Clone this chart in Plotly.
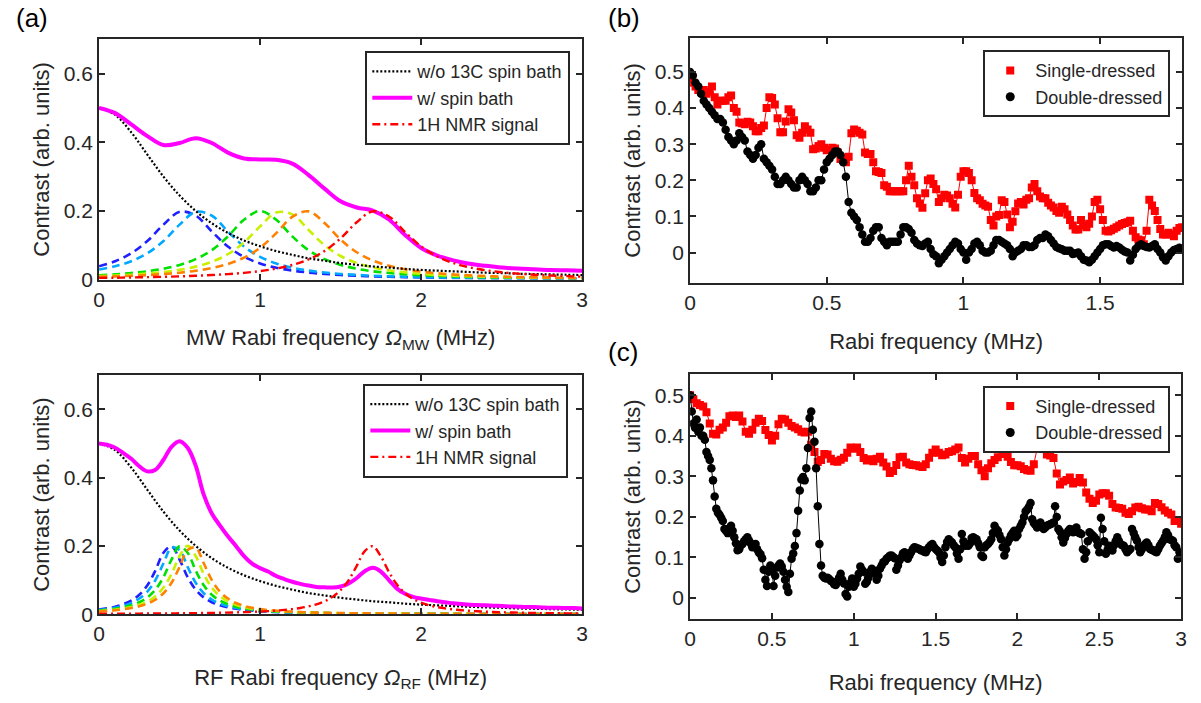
import plotly.graph_objects as go

# ---------------- Panel (a) top: MW dressing (x step 0.1 MHz) ----------------
mw_x = [round(0.1 * i, 2) for i in range(31)]
bare_contrast = [0.500, 0.480, 0.429, 0.364, 0.300, 0.245, 0.200, 0.164, 0.136, 0.114,
                 0.097, 0.083, 0.072, 0.062, 0.055, 0.048, 0.043, 0.038, 0.035, 0.031,
                 0.028, 0.026, 0.024, 0.022, 0.020, 0.019, 0.017, 0.016, 0.015, 0.014, 0.013]
mw_bath = [0.500, 0.485, 0.452, 0.418, 0.392, 0.398, 0.412, 0.398, 0.370, 0.353,
           0.350, 0.349, 0.338, 0.305, 0.265, 0.228, 0.210, 0.201, 0.175, 0.130,
           0.092, 0.070, 0.056, 0.046, 0.040, 0.035, 0.032, 0.030, 0.028, 0.027, 0.026]
mw_blue = [0.0388, 0.0535, 0.0766, 0.1122, 0.1600, 0.1974, 0.1865, 0.1401, 0.0962, 0.0661,
           0.0469, 0.0344, 0.0262, 0.0205, 0.0164, 0.0134, 0.0111, 0.0094, 0.0080, 0.0070,
           0.0061, 0.0053, 0.0047, 0.0042, 0.0038, 0.0034, 0.0031, 0.0028, 0.0026, 0.0024, 0.0022]
mw_cyan = [0.0291, 0.0388, 0.0535, 0.0766, 0.1122, 0.1600, 0.1974, 0.1865, 0.1401, 0.0962,
           0.0661, 0.0469, 0.0344, 0.0262, 0.0205, 0.0164, 0.0134, 0.0111, 0.0094, 0.0080,
           0.0070, 0.0061, 0.0053, 0.0047, 0.0042, 0.0038, 0.0034, 0.0031, 0.0028, 0.0026, 0.0024]
mw_green = [0.0127, 0.0154, 0.0191, 0.0242, 0.0316, 0.0426, 0.0594, 0.0858, 0.1257, 0.1742,
            0.2000, 0.1742, 0.1257, 0.0858, 0.0594, 0.0426, 0.0316, 0.0242, 0.0191, 0.0154,
            0.0127, 0.0106, 0.0090, 0.0077, 0.0067, 0.0058, 0.0051, 0.0046, 0.0041, 0.0037, 0.0033]
mw_yellow = [0.0099, 0.0118, 0.0142, 0.0175, 0.0220, 0.0283, 0.0377, 0.0518, 0.0738, 0.1080,
             0.1550, 0.1954, 0.1899, 0.1451, 0.1000, 0.0686, 0.0484, 0.0355, 0.0269, 0.0210,
             0.0167, 0.0137, 0.0114, 0.0096, 0.0082, 0.0071, 0.0062, 0.0054, 0.0048, 0.0043, 0.0038]
mw_orange = [0.0079, 0.0093, 0.0110, 0.0131, 0.0161, 0.0200, 0.0255, 0.0335, 0.0454, 0.0638,
             0.0926, 0.1352, 0.1827, 0.1988, 0.1649, 0.1166, 0.0795, 0.0554, 0.0400, 0.0299,
             0.0231, 0.0183, 0.0148, 0.0122, 0.0102, 0.0087, 0.0075, 0.0065, 0.0057, 0.0050, 0.0045]
mw_nmr = [0.0048, 0.0054, 0.0061, 0.0070, 0.0080, 0.0093, 0.0110, 0.0131, 0.0159, 0.0196,
          0.0247, 0.0319, 0.0425, 0.0585, 0.0832, 0.1202, 0.1670, 0.1989, 0.1839, 0.1385,
          0.0964, 0.0671, 0.0481, 0.0356, 0.0272, 0.0214, 0.0172, 0.0141, 0.0118, 0.0100, 0.0085]

# ---------------- Panel (a) bottom: RF dressing (x step 0.05 MHz) ----------------
rf_x = [round(0.05 * i, 2) for i in range(61)]
rf_bath = [0.500, 0.496, 0.487, 0.472, 0.455, 0.433, 0.418, 0.423, 0.452, 0.490,
           0.506, 0.487, 0.435, 0.350, 0.295, 0.260, 0.228, 0.200, 0.170, 0.148,
           0.135, 0.125, 0.112, 0.103, 0.095, 0.089, 0.084, 0.080, 0.079, 0.078,
           0.081, 0.090, 0.106, 0.126, 0.136, 0.125, 0.100, 0.075, 0.060, 0.051,
           0.046, 0.042, 0.038, 0.035, 0.032, 0.030, 0.028, 0.027, 0.026, 0.025,
           0.024, 0.023, 0.022, 0.021, 0.021, 0.020, 0.019, 0.019, 0.018, 0.018, 0.017]
rf_blue = [0.0139, 0.0173, 0.0222, 0.0292, 0.0400, 0.0570, 0.0847, 0.1280, 0.1800, 0.1986,
           0.1600, 0.1087, 0.0720, 0.0492, 0.0351, 0.0261, 0.0200, 0.0158, 0.0127, 0.0105,
           0.0088, 0.0075, 0.0064, 0.0056, 0.0049, 0.0043, 0.0038, 0.0034, 0.0031, 0.0028,
           0.0025, 0.0023, 0.0021, 0.0019, 0.0018, 0.0017, 0.0015, 0.0014, 0.0013, 0.0013,
           0.0012, 0.0011, 0.0010, 0.0010, 0.0009, 0.0009, 0.0008, 0.0008, 0.0007, 0.0007,
           0.0007, 0.0006, 0.0006, 0.0006, 0.0006, 0.0005, 0.0005, 0.0005, 0.0005, 0.0005, 0.0004]
rf_cyan = [0.0122, 0.0151, 0.0190, 0.0247, 0.0330, 0.0459, 0.0665, 0.1000, 0.1492, 0.1946,
           0.1882, 0.1385, 0.0920, 0.0615, 0.0428, 0.0310, 0.0234, 0.0181, 0.0145, 0.0118,
           0.0098, 0.0082, 0.0070, 0.0060, 0.0053, 0.0046, 0.0041, 0.0036, 0.0033, 0.0030,
           0.0027, 0.0024, 0.0022, 0.0020, 0.0019, 0.0017, 0.0016, 0.0015, 0.0014, 0.0013,
           0.0012, 0.0011, 0.0011, 0.0010, 0.0010, 0.0009, 0.0009, 0.0008, 0.0008, 0.0007,
           0.0007, 0.0007, 0.0006, 0.0006, 0.0006, 0.0006, 0.0005, 0.0005, 0.0005, 0.0005, 0.0005]
rf_green = [0.0105, 0.0127, 0.0158, 0.0200, 0.0261, 0.0351, 0.0492, 0.0720, 0.1087, 0.1600,
            0.1986, 0.1800, 0.1280, 0.0847, 0.0570, 0.0400, 0.0292, 0.0222, 0.0173, 0.0139,
            0.0113, 0.0094, 0.0079, 0.0068, 0.0059, 0.0051, 0.0045, 0.0040, 0.0036, 0.0032,
            0.0029, 0.0026, 0.0024, 0.0022, 0.0020, 0.0018, 0.0017, 0.0016, 0.0015, 0.0014,
            0.0013, 0.0012, 0.0011, 0.0011, 0.0010, 0.0010, 0.0009, 0.0009, 0.0008, 0.0008,
            0.0007, 0.0007, 0.0007, 0.0006, 0.0006, 0.0006, 0.0006, 0.0005, 0.0005, 0.0005, 0.0005]
rf_yellow = [0.0091, 0.0109, 0.0133, 0.0165, 0.0210, 0.0276, 0.0375, 0.0529, 0.0780, 0.1180,
             0.1704, 0.2000, 0.1704, 0.1180, 0.0780, 0.0529, 0.0375, 0.0276, 0.0210, 0.0165,
             0.0133, 0.0109, 0.0091, 0.0077, 0.0066, 0.0057, 0.0050, 0.0044, 0.0039, 0.0035,
             0.0031, 0.0028, 0.0026, 0.0024, 0.0022, 0.0020, 0.0018, 0.0017, 0.0016, 0.0015,
             0.0014, 0.0013, 0.0012, 0.0011, 0.0010, 0.0010, 0.0009, 0.0009, 0.0008, 0.0008,
             0.0008, 0.0007, 0.0007, 0.0007, 0.0006, 0.0006, 0.0006, 0.0005, 0.0005, 0.0005, 0.0005]
rf_orange = [0.0082, 0.0098, 0.0118, 0.0145, 0.0181, 0.0234, 0.0310, 0.0428, 0.0615, 0.0920,
             0.1385, 0.1882, 0.1946, 0.1492, 0.1000, 0.0665, 0.0459, 0.0330, 0.0247, 0.0190,
             0.0151, 0.0122, 0.0101, 0.0085, 0.0072, 0.0062, 0.0054, 0.0047, 0.0042, 0.0037,
             0.0033, 0.0030, 0.0027, 0.0025, 0.0023, 0.0021, 0.0019, 0.0018, 0.0016, 0.0015,
             0.0014, 0.0013, 0.0012, 0.0012, 0.0011, 0.0010, 0.0010, 0.0009, 0.0009, 0.0008,
             0.0008, 0.0007, 0.0007, 0.0007, 0.0006, 0.0006, 0.0006, 0.0006, 0.0005, 0.0005, 0.0005]
rf_nmr = [0.0014, 0.0015, 0.0015, 0.0016, 0.0018, 0.0019, 0.0020, 0.0022, 0.0023, 0.0025,
          0.0027, 0.0030, 0.0033, 0.0036, 0.0039, 0.0043, 0.0048, 0.0054, 0.0061, 0.0069,
          0.0079, 0.0091, 0.0107, 0.0126, 0.0151, 0.0184, 0.0228, 0.0290, 0.0378, 0.0508,
          0.0704, 0.1000, 0.1415, 0.1849, 0.1990, 0.1690, 0.1237, 0.0867, 0.0615, 0.0449,
          0.0339, 0.0263, 0.0209, 0.0170, 0.0140, 0.0118, 0.0100, 0.0086, 0.0075, 0.0066,
          0.0058, 0.0052, 0.0046, 0.0042, 0.0038, 0.0034, 0.0031, 0.0029, 0.0026, 0.0024, 0.0023]

# ---------------- Panel (b): experiment, 0-1.8 MHz, step 0.01 ----------------
b_single = [0.48, 0.47, 0.46, 0.45, 0.45, 0.45, 0.44, 0.445, 0.46, 0.43,
            0.41, 0.42, 0.42, 0.42, 0.43, 0.435, 0.40, 0.39, 0.36, 0.358,
            0.355, 0.362, 0.36, 0.35, 0.336, 0.336, 0.345, 0.352, 0.40, 0.43,
            0.428, 0.41, 0.372, 0.333, 0.333, 0.363, 0.397, 0.388, 0.366, 0.325,
            0.318, 0.332, 0.35, 0.341, 0.332, 0.286, 0.288, 0.295, 0.30, 0.29,
            0.283, 0.284, 0.29, 0.288, 0.277, 0.259, 0.261, 0.25, 0.265, 0.33,
            0.341, 0.337, 0.332, 0.327, 0.277, 0.273, 0.273, 0.25, 0.225, 0.223,
            0.22, 0.186, 0.182, 0.17, 0.17, 0.17, 0.17, 0.17, 0.17, 0.20,
            0.24, 0.21, 0.186, 0.15, 0.136, 0.124, 0.164, 0.20, 0.205, 0.19,
            0.175, 0.14, 0.15, 0.16, 0.158, 0.15, 0.135, 0.125, 0.16, 0.21,
            0.225, 0.225, 0.22, 0.20, 0.165, 0.15, 0.145, 0.135, 0.13, 0.127,
            0.09, 0.075, 0.10, 0.104, 0.145, 0.14, 0.105, 0.07, 0.085, 0.114,
            0.136, 0.14, 0.133, 0.146, 0.15, 0.18, 0.19, 0.17, 0.155, 0.15,
            0.15, 0.138, 0.13, 0.125, 0.115, 0.11, 0.127, 0.12, 0.105, 0.09,
            0.075, 0.064, 0.064, 0.09, 0.075, 0.07, 0.08, 0.10, 0.14, 0.146,
            0.12, 0.09, 0.06, 0.058, 0.062, 0.066, 0.07, 0.075, 0.079, 0.082,
            0.084, 0.088, 0.06, 0.042, 0.036, 0.034, 0.023, 0.06, 0.146, 0.13,
            0.115, 0.09, 0.065, 0.05, 0.05, 0.055, 0.05, 0.045, 0.06, 0.068, 0.07]
b_double = [0.50, 0.49, 0.47, 0.46, 0.44, 0.42, 0.41, 0.40, 0.39, 0.38,
            0.37, 0.37, 0.36, 0.34, 0.32, 0.31, 0.30, 0.31, 0.33, 0.32,
            0.31, 0.28, 0.27, 0.26, 0.27, 0.29, 0.30, 0.26, 0.25, 0.24,
            0.23, 0.21, 0.19, 0.19, 0.20, 0.21, 0.20, 0.19, 0.18, 0.18,
            0.20, 0.21, 0.20, 0.19, 0.17, 0.17, 0.18, 0.20, 0.20, 0.23,
            0.25, 0.26, 0.27, 0.28, 0.28, 0.27, 0.25, 0.21, 0.14, 0.11,
            0.10, 0.09, 0.07, 0.05, 0.03, 0.03, 0.04, 0.06, 0.07, 0.07,
            0.04, 0.03, 0.02, 0.03, 0.03, 0.03, 0.03, 0.05, 0.07, 0.07,
            0.065, 0.055, 0.035, 0.025, 0.02, 0.018, 0.025, 0.03, 0.01, -0.005,
            -0.01, -0.03, -0.02, -0.01, 0.00, 0.01, 0.02, 0.03, 0.025, 0.01,
            0.00, -0.02, 0.00, 0.01, 0.025, 0.03, 0.02, 0.005, 0.00, 0.00,
            0.005, 0.02, 0.035, 0.035, 0.03, 0.025, 0.02, 0.01, -0.01, 0.00,
            0.005, 0.01, 0.02, 0.02, 0.015, 0.015, 0.02, 0.035, 0.04, 0.04,
            0.05, 0.045, 0.035, 0.025, 0.015, 0.012, 0.009, 0.005, 0.005, 0.005,
            -0.004, -0.002, 0.00, -0.01, -0.02, -0.022, -0.027, -0.02, -0.01, 0.00,
            0.01, 0.02, 0.023, 0.023, 0.018, 0.014, 0.018, 0.014, 0.008, 0.003,
            0.00, -0.022, -0.006, 0.01, 0.018, 0.023, 0.018, 0.015, 0.014, 0.018,
            0.023, 0.01, 0.00, -0.013, -0.022, -0.01, 0.00, 0.007, 0.01, 0.013, 0.01]

# ---------------- Panel (c): experiment, 0-3 MHz ----------------
c_single = [0.50, 0.49, 0.48, 0.476, 0.472, 0.458, 0.43, 0.405, 0.403, 0.415,
            0.42, 0.432, 0.448, 0.45, 0.446, 0.45, 0.435, 0.41, 0.405, 0.415,
            0.432, 0.442, 0.436, 0.414, 0.402, 0.388, 0.40, 0.428, 0.442, 0.44,
            0.432, 0.424, 0.42, 0.416, 0.41, 0.408, 0.41, 0.378, 0.36, 0.335,
            0.34, 0.355, 0.354, 0.343, 0.337, 0.336, 0.341, 0.346, 0.358, 0.371,
            0.368, 0.371, 0.36, 0.345, 0.339, 0.342, 0.337, 0.343, 0.348, 0.334,
            0.324, 0.308, 0.313, 0.328, 0.347, 0.348, 0.334, 0.33, 0.328, 0.327,
            0.325, 0.323, 0.33, 0.346, 0.358, 0.366, 0.358, 0.352, 0.354, 0.36,
            0.362, 0.366, 0.371, 0.345, 0.334, 0.343, 0.35, 0.35, 0.33, 0.315,
            0.30, 0.32, 0.332, 0.34, 0.347, 0.366, 0.355, 0.348, 0.335, 0.327,
            0.327, 0.325, 0.318, 0.315, 0.314, 0.33, 0.368, 0.385, 0.372, 0.354,
            0.351, 0.345, 0.307, 0.28, 0.287, 0.291, 0.297, 0.282, 0.286, 0.296,
            0.285, 0.26, 0.245, 0.234, 0.24, 0.255, 0.258, 0.258, 0.252, 0.232,
            0.223, 0.222, 0.22, 0.21, 0.207, 0.214, 0.223, 0.225, 0.221, 0.218,
            0.218, 0.214, 0.234, 0.232, 0.224, 0.216, 0.21, 0.206, 0.19, 0.19, 0.183]
c_double = [0.50, 0.46, 0.43, 0.42, 0.44, 0.41, 0.42, 0.40, 0.40, 0.39,
            0.36, 0.35, 0.34, 0.32, 0.29, 0.25, 0.22, 0.21, 0.205, 0.198,
            0.19, 0.17, 0.165, 0.16, 0.172, 0.178, 0.166, 0.15, 0.135, 0.118,
            0.12, 0.13, 0.133, 0.14, 0.145, 0.15, 0.142, 0.135, 0.125, 0.128,
            0.133, 0.12, 0.112, 0.108, 0.098, 0.07, 0.045, 0.03, 0.065, 0.08,
            0.07, 0.03, 0.055, 0.075, 0.08, 0.085, 0.078, 0.065, 0.045, 0.028,
            0.015, 0.06, 0.097, 0.11, 0.128, 0.16, 0.215, 0.265, 0.292, 0.298,
            0.29, 0.32, 0.37, 0.444, 0.46, 0.415, 0.385, 0.32, 0.226, 0.133,
            0.08, 0.055, 0.05, 0.048, 0.05, 0.047, 0.042, 0.04, 0.034, 0.032,
            0.04, 0.05, 0.06, 0.045, 0.036, 0.01, 0.004, 0.028, 0.038, 0.048,
            0.028, 0.035, 0.048, 0.06, 0.078, 0.07, 0.065, 0.035, 0.04, 0.05,
            0.065, 0.072, 0.068, 0.06, 0.045, 0.055, 0.072, 0.08, 0.088, 0.09,
            0.097, 0.10, 0.104, 0.105, 0.102, 0.098, 0.07, 0.08, 0.093, 0.10,
            0.11, 0.113, 0.105, 0.097, 0.105, 0.113, 0.12, 0.125, 0.124, 0.122,
            0.121, 0.118, 0.117, 0.114, 0.113, 0.12, 0.125, 0.13, 0.133, 0.126,
            0.121, 0.117, 0.113, 0.10, 0.089, 0.105, 0.125, 0.138, 0.145, 0.14,
            0.137, 0.13, 0.125, 0.11, 0.097, 0.12, 0.158, 0.14, 0.129, 0.13,
            0.129, 0.135, 0.148, 0.15, 0.147, 0.145, 0.135, 0.125, 0.105, 0.101,
            0.125, 0.13, 0.133, 0.138, 0.145, 0.16, 0.178, 0.17, 0.166, 0.155,
            0.145, 0.125, 0.105, 0.12, 0.137, 0.145, 0.154, 0.16, 0.166, 0.15,
            0.155, 0.17, 0.178, 0.186, 0.20, 0.214, 0.218, 0.225, 0.234, 0.194,
            0.185, 0.18, 0.174, 0.178, 0.186, 0.178, 0.17, 0.174, 0.178, 0.18,
            0.182, 0.184, 0.186, 0.226, 0.20, 0.17, 0.164, 0.15, 0.137, 0.148,
            0.158, 0.165, 0.17, 0.166, 0.162, 0.17, 0.174, 0.162, 0.16, 0.158,
            0.12, 0.097, 0.113, 0.14, 0.162, 0.158, 0.154, 0.15, 0.145, 0.13,
            0.113, 0.198, 0.17, 0.14, 0.109, 0.118, 0.129, 0.123, 0.117, 0.13,
            0.14, 0.15, 0.14, 0.133, 0.13, 0.129, 0.12, 0.113, 0.117, 0.121,
            0.17, 0.16, 0.15, 0.141, 0.125, 0.113, 0.12, 0.129, 0.133, 0.137,
            0.13, 0.121, 0.119, 0.117, 0.115, 0.113, 0.12, 0.129, 0.135, 0.141,
            0.15, 0.162, 0.155, 0.145, 0.143, 0.141, 0.13, 0.125, 0.097, 0.113, 0.10]

b_x = [round(0.01 * i, 2) for i in range(len(b_single))]
c_single_x = [round(0.02 * i, 2) for i in range(len(c_single))]
c_double_x = [round(0.01 * i, 2) for i in range(len(c_double))]

# ---------------- styling ----------------
W, H = 1201, 703
FONT = "Liberation Sans, Arial, Helvetica, sans-serif"
AX = "#262626"
DASH_COLORS = ["#1f1fff", "#00a8ff", "#00e000", "#c8f000", "#ff8000"]


def dom_x(a, b):
    return [a / W, b / W]


def dom_y(top, bottom):
    return [1 - bottom / H, 1 - top / H]


fig = go.Figure()


def theory_panel(xax, yax, legend, x, colored, nmr, bath, bare_x):
    for col, ys in zip(DASH_COLORS, colored):
        fig.add_trace(go.Scatter(x=x, y=ys, mode="lines", xaxis=xax, yaxis=yax,
                                 line=dict(color=col, width=2.6, dash="8px,5px", shape="spline"),
                                 showlegend=False, hoverinfo="skip"))
    fig.add_trace(go.Scatter(x=bare_x, y=bare_contrast, mode="lines", xaxis=xax, yaxis=yax,
                             name="w/o 13C spin bath", legend=legend, legendrank=1,
                             line=dict(color="black", width=2.2, dash="2px,2px", shape="spline")))
    fig.add_trace(go.Scatter(x=x, y=bath, mode="lines", xaxis=xax, yaxis=yax,
                             name="w/ spin bath", legend=legend, legendrank=2,
                             line=dict(color="#ff00ff", width=4, shape="spline")))
    fig.add_trace(go.Scatter(x=x, y=nmr, mode="lines", xaxis=xax, yaxis=yax,
                             name="1H NMR signal", legend=legend, legendrank=3,
                             line=dict(color="#ff0000", width=2.4, dash="8px,4px,2px,4px",
                                       shape="spline")))


theory_panel("x", "y", "legend", mw_x,
             [mw_blue, mw_cyan, mw_green, mw_yellow, mw_orange], mw_nmr, mw_bath, mw_x)
theory_panel("x2", "y2", "legend2", rf_x,
             [rf_blue, rf_cyan, rf_green, rf_yellow, rf_orange], rf_nmr, rf_bath, mw_x)


def exp_panel(xax, yax, legend, sx, sy, dx, dy):
    fig.add_trace(go.Scatter(x=sx, y=sy, mode="lines+markers", xaxis=xax, yaxis=yax,
                             line=dict(color="#ff0000", width=1),
                             marker=dict(symbol="square", size=8, color="#ff0000"),
                             showlegend=False))
    fig.add_trace(go.Scatter(x=dx, y=dy, mode="lines+markers", xaxis=xax, yaxis=yax,
                             line=dict(color="black", width=1),
                             marker=dict(symbol="circle", size=8.5, color="black"),
                             showlegend=False))
    fig.add_trace(go.Scatter(x=[None], y=[None], mode="markers", xaxis=xax, yaxis=yax,
                             name="Single-dressed", legend=legend,
                             marker=dict(symbol="square", size=8, color="#ff0000")))
    fig.add_trace(go.Scatter(x=[None], y=[None], mode="markers", xaxis=xax, yaxis=yax,
                             name="Double-dressed", legend=legend,
                             marker=dict(symbol="circle", size=9, color="black")))


exp_panel("x3", "y3", "legend3", b_x, b_single, b_x, b_double)
exp_panel("x4", "y4", "legend4", c_single_x, c_single, c_double_x, c_double)


def axis(domain, rng, dtick, title, standoff, tickvals=None):
    d = dict(domain=domain, range=rng, showline=True, linecolor=AX, linewidth=2,
             mirror="ticks", ticks="inside", ticklen=6, tickwidth=1.5, tickcolor=AX,
             showgrid=False, zeroline=False,
             tickfont=dict(size=21, color=AX, family=FONT),
             title=dict(text=title, font=dict(size=22, color=AX, family=FONT), standoff=standoff))
    if tickvals is not None:
        d.update(tickmode="array", tickvals=tickvals)
    else:
        d.update(dtick=dtick, tick0=0)
    return d


ytitle = "Contrast (arb. units)"
fig.update_layout(
    width=W, height=H, margin=dict(l=0, r=0, t=0, b=0),
    paper_bgcolor="white", plot_bgcolor="white",
    font=dict(family=FONT, color=AX),
    xaxis=axis(dom_x(94, 582), [0, 3], 1, "MW Rabi frequency <i>Ω</i><sub>MW</sub> (MHz)", 20),
    yaxis=axis(dom_y(40, 284), [0, 0.7], None, ytitle, 8, [0, 0.2, 0.4, 0.6]),
    xaxis2=axis(dom_x(94, 582), [0, 3], 1, "RF Rabi frequency <i>Ω</i><sub>RF</sub> (MHz)", 25),
    yaxis2=axis(dom_y(381, 624), [0, 0.7], None, ytitle, 8, [0, 0.2, 0.4, 0.6]),
    xaxis3=axis(dom_x(691, 1188), [0, 1.8], 0.5, "Rabi frequency (MHz)", 21),
    yaxis3=axis(dom_y(39, 287), [-0.083, 0.593], 0.1, ytitle, 8),
    xaxis4=axis(dom_x(691, 1187), [0, 3], 0.5, "Rabi frequency (MHz)", 25),
    yaxis4=axis(dom_y(380, 629), [-0.052, 0.552], 0.1, ytitle, 8),
    showlegend=True,
)
fig.layout.xaxis2.anchor = "y2"
fig.layout.yaxis2.anchor = "x2"
fig.layout.xaxis3.anchor = "y3"
fig.layout.yaxis3.anchor = "x3"
fig.layout.xaxis4.anchor = "y4"
fig.layout.yaxis4.anchor = "x4"


def legend_box(right_px, top_px):
    return dict(x=right_px / W, y=1 - top_px / H, xanchor="right", yanchor="top",
                bgcolor="white", bordercolor=AX, borderwidth=2,
                font=dict(size=18, color=AX, family=FONT), itemwidth=40,
                tracegroupgap=0, traceorder="normal")


fig.update_layout(legend=legend_box(570, 52), legend2=legend_box(568, 390),
                  legend3=legend_box(1176, 51), legend4=legend_box(1176, 392))

for txt, xp, yp in [("(a)", 8, 18), ("(b)", 606, 18), ("(c)", 606, 358)]:
    fig.add_annotation(text=txt, x=xp / W, y=1 - yp / H, xref="paper", yref="paper",
                       xanchor="left", yanchor="middle", showarrow=False,
                       font=dict(size=26, color="black", family=FONT))

fig.write_html("out.html")
